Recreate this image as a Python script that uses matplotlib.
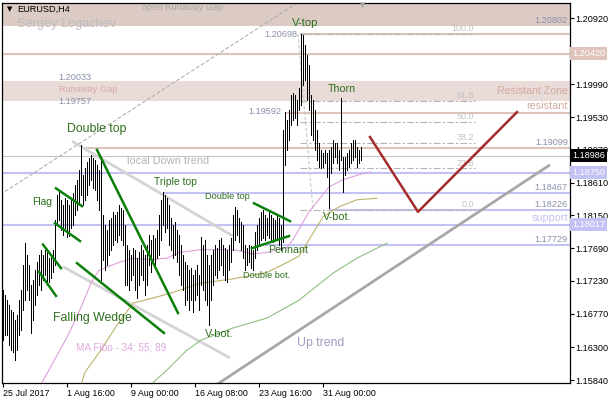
import numpy as np
import matplotlib.pyplot as plt
from matplotlib.transforms import blended_transform_factory

plt.rcParams['font.family'] = ['Liberation Sans', 'DejaVu Sans']

# EURUSD H4 bars (high / low)
highs = [1.1710, 1.1703, 1.1696, 1.1689, 1.1682, 1.1679, 1.1668, 1.1675, 1.1696, 1.1710,
         1.1746, 1.1776, 1.1759, 1.1746, 1.1717, 1.1724, 1.1738, 1.1750, 1.1759, 1.1767,
         1.1759, 1.1767, 1.1763, 1.1755, 1.1759, 1.1767, 1.1809, 1.1844, 1.1851, 1.1837,
         1.1830, 1.1840, 1.1837, 1.1830, 1.1840, 1.1847, 1.1858, 1.1865, 1.1879, 1.1914,
         1.1872, 1.1882, 1.1890, 1.1896, 1.1900, 1.1896, 1.1893, 1.1886, 1.1879, 1.1893,
         1.1816, 1.1802, 1.1795, 1.1809, 1.1811, 1.1820, 1.1816, 1.1820, 1.1830, 1.1825,
         1.1823, 1.1802, 1.1774, 1.1767, 1.1759, 1.1769, 1.1767, 1.1755, 1.1763, 1.1774,
         1.1767, 1.1759, 1.1774, 1.1788, 1.1781, 1.1788, 1.1783, 1.1795, 1.1816, 1.1837,
         1.1848, 1.1844, 1.1840, 1.1830, 1.1811, 1.1802, 1.1806, 1.1795, 1.1788, 1.1774,
         1.1759, 1.1750, 1.1746, 1.1738, 1.1741, 1.1731, 1.1738, 1.1746, 1.1731, 1.1785,
         1.1774, 1.1781, 1.1759, 1.1746, 1.1759, 1.1767, 1.1774, 1.1769, 1.1781, 1.1783,
         1.1774, 1.1769, 1.1767, 1.1774, 1.1783, 1.1816, 1.1827, 1.1823, 1.1811, 1.1806,
         1.1802, 1.1774, 1.1769, 1.1774, 1.1772, 1.1767, 1.1792, 1.1802, 1.1811, 1.1820,
         1.1823, 1.1816, 1.1811, 1.1820, 1.1816, 1.1811, 1.1809, 1.1816, 1.1811, 1.1802,
         1.1935, 1.1960, 1.1949, 1.1963, 1.1984, 1.1987, 1.1984, 1.1977, 1.1994, 1.2070,
         1.2068, 1.2054, 1.2040, 1.2026, 1.1984, 1.1977, 1.1963, 1.1935, 1.1917, 1.1907,
         1.1903, 1.1907, 1.1903, 1.1907, 1.1911, 1.1921, 1.1917, 1.1917, 1.1907, 1.1980,
         1.1897, 1.1897, 1.1903, 1.1907, 1.1917, 1.1921, 1.1921, 1.1911, 1.1907, 1.1911]
lows = [1.1640, 1.1647, 1.1647, 1.1633, 1.1626, 1.1623, 1.1612, 1.1626, 1.1647, 1.1654,
        1.1682, 1.1696, 1.1710, 1.1696, 1.1650, 1.1668, 1.1689, 1.1703, 1.1717, 1.1710,
        1.1724, 1.1731, 1.1717, 1.1721, 1.1727, 1.1735, 1.1746, 1.1802, 1.1809, 1.1795,
        1.1788, 1.1797, 1.1785, 1.1786, 1.1797, 1.1802, 1.1816, 1.1823, 1.1830, 1.1844,
        1.1830, 1.1837, 1.1844, 1.1858, 1.1865, 1.1854, 1.1851, 1.1837, 1.1823, 1.1724,
        1.1753, 1.1738, 1.1746, 1.1759, 1.1767, 1.1774, 1.1781, 1.1778, 1.1788, 1.1781,
        1.1774, 1.1717, 1.1717, 1.1710, 1.1724, 1.1731, 1.1710, 1.1699, 1.1717, 1.1731,
        1.1724, 1.1703, 1.1717, 1.1746, 1.1735, 1.1750, 1.1741, 1.1755, 1.1759, 1.1781,
        1.1802, 1.1792, 1.1797, 1.1774, 1.1767, 1.1755, 1.1759, 1.1750, 1.1731, 1.1717,
        1.1710, 1.1689, 1.1696, 1.1682, 1.1696, 1.1679, 1.1696, 1.1703, 1.1682, 1.1717,
        1.1710, 1.1696, 1.1689, 1.1661, 1.1696, 1.1717, 1.1731, 1.1727, 1.1738, 1.1746,
        1.1731, 1.1724, 1.1721, 1.1738, 1.1750, 1.1767, 1.1781, 1.1788, 1.1778, 1.1767,
        1.1755, 1.1738, 1.1746, 1.1750, 1.1741, 1.1738, 1.1755, 1.1767, 1.1774, 1.1781,
        1.1783, 1.1781, 1.1788, 1.1783, 1.1781, 1.1778, 1.1781, 1.1783, 1.1774, 1.1767,
        1.1778, 1.1886, 1.1907, 1.1921, 1.1942, 1.1949, 1.1952, 1.1942, 1.1963, 1.1970,
        1.1998, 1.2005, 1.1977, 1.1963, 1.1928, 1.1921, 1.1907, 1.1893, 1.1883, 1.1882,
        1.1883, 1.1889, 1.1869, 1.1825, 1.1875, 1.1889, 1.1897, 1.1889, 1.1879, 1.1893,
        1.1848, 1.1872, 1.1879, 1.1883, 1.1889, 1.1893, 1.1897, 1.1883, 1.1889, 1.1893]
last_close = 1.18986

# MA Fibo 34 / 55 / 89 (bar index, value)
ma34_idx = [19, 32, 38, 44, 48, 58, 65, 73, 82, 88, 99, 115, 125, 132, 142, 145, 153, 163, 170, 179, 184]
ma34_val = [1.1578, 1.1644, 1.1679, 1.1720, 1.1738, 1.1749, 1.1755, 1.1753, 1.1755, 1.1763, 1.1767,
            1.1767, 1.1761, 1.1763, 1.1770, 1.1781, 1.1820, 1.1855, 1.1865, 1.1873, 1.1876]
ma55_idx = [39, 41, 49, 57, 65, 75, 85, 99, 115, 132, 142, 148, 160, 168, 177, 187]
ma55_val = [1.1577, 1.1595, 1.1626, 1.1661, 1.1692, 1.1699, 1.1707, 1.1720, 1.1726, 1.1735,
            1.1749, 1.1758, 1.1813, 1.1827, 1.1837, 1.1839]
ma89_idx = [72, 82, 92, 99, 115, 132, 148, 165, 177, 192]
ma89_val = [1.1573, 1.1598, 1.1626, 1.1640, 1.1657, 1.1671, 1.1696, 1.1734, 1.1755, 1.1776]

# axis
y_ticks = [1.20920, 1.20420, 1.19990, 1.19530, 1.19070, 1.18610, 1.18150,
           1.17690, 1.17230, 1.16770, 1.16300, 1.15840]
x_tick_pos = [0, 32, 64, 96, 128, 160]
x_tick_labels = ['25 Jul 2017', '1 Aug 16:00', '9 Aug 00:00', '16 Aug 08:00',
                 '23 Aug 16:00', '31 Aug 00:00']

# horizontal levels (price, first bar)
pink_levels = [(1.20420, None), (1.20698, 148.5), (1.19592, 141), (1.19099, 39)]
blue_levels = [(1.18750, None), (1.18467, 80), (1.18226, 163), (1.18017, None), (1.17729, 131)]
open_gap = (1.20802, 1.2115)
runaway_gap = (1.19757, 1.20033)

# fibo retracement V-top -> V-bot
fibo_high = 1.20698
fibo_low = 1.18226
fibo_levels = [100.0, 61.8, 50.0, 38.2, 23.6, 0.0]

# drawn lines ((bar, price), (bar, price))
green_lines = [((26.5, 1.1853), (39.5, 1.1828)),
               ((26, 1.1804), (38.5, 1.1779)),
               ((20, 1.1774), (29, 1.1741)),
               ((18, 1.1736), (26.5, 1.1702)),
               ((47, 1.1907), (87.5, 1.1678)),
               ((37, 1.1748), (80.5, 1.1650)),
               ((125.5, 1.1832), (143.5, 1.1807)),
               ((124.5, 1.1769), (143, 1.1786))]
channel_line = ((-1.5, 1.1844), (147, 1.2113))
down_trend = ((34.5, 1.1919), (115, 1.1786))
down_trend_low = ((30, 1.1743), (113.5, 1.1615))
up_trend = ((106, 1.1576), (273.5, 1.1886))
fibo_trend = ((147.5, 1.20698), (155, 1.18226))
forecast_x = [183.5, 207.5, 257]
forecast_y = [1.1925, 1.1820, 1.1960]

W, H = 610, 400
fig = plt.figure(figsize=(W / 100, H / 100), dpi=100)
ax = fig.add_axes([2 / W, 17 / H, 568 / W, 380 / H])
ax.set_xlim(-0.5, 283.5)
ax.set_ylim(1.15798, 1.21131)

pink = '#e0c4bc'
blue = '#c2c2f4'
green = '#0a800a'
lbl_c = '#8a90aa'
txt_green = '#2d6e1e'

ax.axhspan(open_gap[0], open_gap[1], color='#dccac4', lw=0, zorder=0)
ax.axhspan(runaway_gap[0], runaway_gap[1], color='#e9dbd7', lw=0, zorder=0)

x0, x1 = ax.get_xlim()
for p, s in pink_levels:
    ax.hlines(p, x0 if s is None else s, x1, color=pink, lw=1.5, zorder=1)
for p, s in blue_levels:
    ax.hlines(p, x0 if s is None else s, x1, color=blue, lw=1.5, zorder=1)
ax.hlines(last_close, x0, x1, color='#c4c4c4', lw=0.8, zorder=1)

for lv in fibo_levels:
    p = fibo_low + (fibo_high - fibo_low) * lv / 100
    ax.hlines(p, 148.5, 236, color='#b4b4b4', lw=0.8, linestyles=(0, (6, 2, 2, 2)), zorder=2)
    ax.annotate('%.1f' % lv, xy=(235.5, p), xytext=(0, 0.5), textcoords='offset points',
                ha='right', va='bottom', fontsize=6.4, color='#c0c0c0')
ax.plot(*zip(*fibo_trend), color='#c8c8c8', lw=0.8, ls=(0, (3, 2)), zorder=2)

ax.plot(*zip(*channel_line), color='#a8a8a8', lw=0.7, ls=(0, (4, 2)), zorder=2)
ax.plot(*zip(*down_trend), color='#d4d4d4', lw=2, zorder=2, solid_capstyle='butt')
ax.plot(*zip(*down_trend_low), color='#d4d4d4', lw=2, zorder=2, solid_capstyle='butt')
ax.plot(*zip(*up_trend), color='#a8a8a8', lw=2, zorder=2, solid_capstyle='butt')

ax.plot(ma34_idx, ma34_val, color='#dda0dd', lw=0.8, zorder=3)
ax.plot(ma55_idx, ma55_val, color='#bdb26a', lw=0.8, zorder=3)
ax.plot(ma89_idx, ma89_val, color='#8fbf84', lw=0.8, zorder=3)

idx = np.arange(len(highs))
ax.vlines(idx, lows, highs, color='black', lw=0.5, antialiased=False, zorder=4)

for a, b in green_lines:
    ax.plot([a[0], b[0]], [a[1], b[1]], color=green, lw=1.8, zorder=5)
ax.plot(forecast_x, forecast_y, color='#a52a2a', lw=1.8, zorder=5)

# axes look
for s in ax.spines.values():
    s.set_linewidth(0.9)
ax.yaxis.tick_right()
ax.set_yticks(y_ticks)
# 1.20420 is shown by its coloured box instead
ax.set_yticklabels(['' if v == 1.20420 else '%.5f' % v for v in y_ticks])
ax.set_xticks(x_tick_pos)
ax.set_xticklabels(x_tick_labels)
for lbl in ax.get_xticklabels():
    lbl.set_ha('left')
ax.tick_params(axis='y', length=3, width=0.8, labelsize=6.6, pad=1)
ax.tick_params(axis='x', length=3, width=0.8, labelsize=6.4, pad=1)

tr = blended_transform_factory(ax.transAxes, ax.transData)
boxes = [(1.20420, '1.20420', '#e0c4bc'), (1.18986, '1.18986', 'black'),
         (1.18750, '1.18750', '#c2c2f4'), (1.18017, '1.18017', '#c2c2f4')]
for p, t, c in boxes:
    ax.text(1.0035, p, t, transform=tr, ha='left', va='center', fontsize=6.6, color='white',
            bbox=dict(boxstyle='square,pad=0.22', fc=c, ec='none'), clip_on=False, zorder=10)

right_lbls = [(1.20802, '1.20802'), (1.19099, '1.19099'), (1.18467, '1.18467'),
              (1.18226, '1.18226'), (1.17729, '1.17729')]
for p, t in right_lbls:
    ax.annotate(t, xy=(0.996, p), xycoords=tr, xytext=(0, 0.8), textcoords='offset points',
                ha='right', va='bottom', fontsize=6.6, color=lbl_c)


def put(t, x, y, size, color, ha='left', **kw):
    fig.text(x / W, 1 - y / H, t, fontsize=size, color=color, ha=ha, va='center', **kw)


put('EURUSD,H4', 17, 9.5, 6.6, 'black')
fig.text(6.5 / W, 1 - 9.5 / H, '\u25bc', fontsize=5, color='black', va='center', family='DejaVu Sans')
fig.text(363 / W, 1 - 5 / H, '\u25bc', fontsize=5, color='#a0a0a0', ha='center', va='center', family='DejaVu Sans')
put('Sergey Logachev', 17, 24, 9.2, '#bdbdbd')
put('open Runaway Gap', 142, 8, 6.6, '#a8a8a8')
put('1.20033', 58, 77, 6.6, lbl_c)
put('Runaway Gap', 59, 90, 6.7, '#d8aaa6')
put('1.19757', 58, 102, 6.6, lbl_c)
put('1.20698', 297, 34.5, 6.6, lbl_c, ha='right')
put('1.19592', 281, 111.5, 6.6, lbl_c, ha='right')
put('Resistant Zone', 568, 91, 7.6, '#d2aaa0', ha='right')
put('resistant', 568, 106, 7.8, '#d2aaa0', ha='right')
put('support', 568, 218, 7.8, '#c2c2f0', ha='right')
put('local Down trend', 127, 161, 7.9, '#b4b4b4')
put('Up trend', 297, 343, 8.8, '#9a9ac0')
put('MA Fibo - 34; 55; 89', 76, 347, 7.2, '#e0a8e0')

put('Double top', 67, 129, 8.8, txt_green)
put('Flag', 32, 202, 7.4, txt_green)
put('Triple top', 154, 182, 7.5, txt_green)
put('Double top', 205, 197, 6.7, txt_green)
put('Pennant', 268, 250, 7.7, txt_green)
put('Double bot.', 243, 275.5, 6.6, txt_green)
put('V-bot.', 205, 334, 7.8, txt_green)
put('Falling Wedge', 53, 318, 8.8, txt_green)
put('V-top', 292, 23, 8.1, txt_green)
put('Thorn', 328, 89.5, 7.7, txt_green)
put('V-bot.', 323, 217, 7.8, txt_green)

fig.savefig('out.png', dpi=100)
